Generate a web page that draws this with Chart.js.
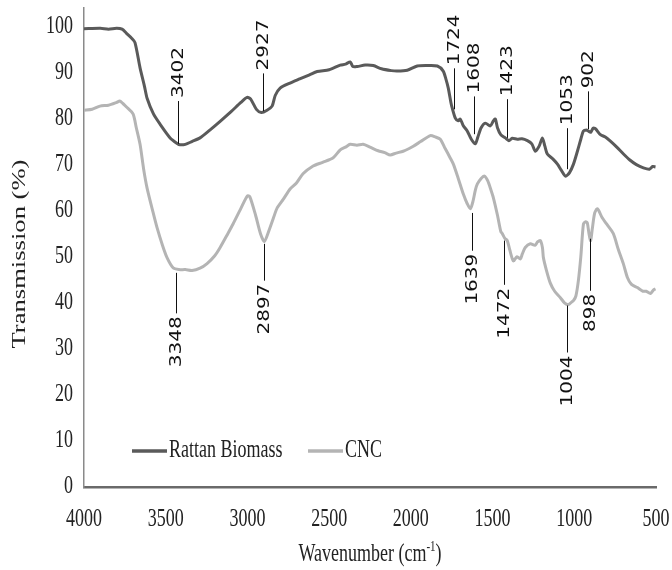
<!DOCTYPE html>
<html>
<head>
<meta charset="utf-8">
<script src="https://cdn.jsdelivr.net/npm/chart.js@4"></script>
<style>
  html, body { margin: 0; padding: 0; background: #fff; }
  #wrap { width: 672px; height: 570px; position: relative; }
</style>
</head>
<body>
<div id="wrap"><canvas id="ftir"></canvas></div>
<script>
// FTIR spectra (wavenumber in cm-1, transmission in %)
const rattanWn = [4000, 3900, 3850, 3800, 3767, 3740, 3710, 3688, 3657, 3630, 3614, 3575, 3535, 3473, 3430, 3412, 3380, 3340, 3290, 3230,
  3167, 3100, 3040, 3002, 2980, 2945, 2915, 2880, 2849, 2830, 2800, 2739, 2680, 2620, 2573, 2500, 2432, 2400, 2371, 2355,
  2328, 2280, 2230, 2180, 2120, 2083, 2022, 1961, 1900, 1838, 1802, 1785, 1771, 1755, 1747, 1728, 1710, 1698, 1680, 1655,
  1630, 1606, 1590, 1570, 1544, 1514, 1495, 1483, 1470, 1450, 1422, 1400, 1380, 1349, 1320, 1287, 1260, 1238, 1215, 1195,
  1180, 1165, 1130, 1103, 1080, 1054, 1030, 1005, 980, 960, 944, 925, 914, 900, 885, 871, 840, 810, 779, 740,
  699, 660, 620, 577, 540, 520, 503];
const rattanT = [99.5, 99.6, 99.4, 99.6, 99.4, 98.5, 97.5, 96.5, 91, 87, 84.4, 81, 78.8, 75.8, 74.6, 74.3, 74.4, 75, 75.8, 77.5,
  79.4, 81.5, 83.5, 84.6, 84.2, 82, 81.3, 81.8, 82.7, 85, 86.6, 87.7, 88.6, 89.5, 90.2, 90.6, 91.6, 91.8, 92.3, 91.3,
  91.3, 91.6, 91.5, 90.8, 90.4, 90.3, 90.5, 91.4, 91.5, 91.4, 90.3, 88.5, 86.6, 83.5, 82.3, 80.1, 79.5, 79.9, 78.5, 77.3,
  75.5, 74.5, 76, 78, 79, 78.4, 79.5, 79.9, 78, 76.5, 75.8, 75.2, 75.7, 75.5, 75.6, 75.2, 74.5, 72.9, 74, 75.8,
  74, 72.3, 71.2, 70.1, 68.8, 67.5, 68.2, 70.1, 73, 75.5, 77.3, 77.5, 77.3, 77, 77.9, 77.8, 76.5, 76, 75.1, 73.8,
  72.3, 71, 70, 69.3, 69, 69.6, 69.5];

const cncWn = [4000, 3950, 3902, 3850, 3800, 3780, 3740, 3700, 3680, 3657, 3635, 3614, 3580, 3553, 3520, 3492, 3455, 3420, 3380, 3339,
  3290, 3247, 3200, 3167, 3120, 3088, 3040, 3000, 2985, 2950, 2920, 2897, 2870, 2840, 2818, 2780, 2739, 2700, 2660, 2598,
  2540, 2475, 2432, 2400, 2371, 2330, 2292, 2250, 2200, 2160, 2126, 2090, 2047, 2010, 1985, 1940, 1881, 1850, 1820, 1790,
  1760, 1740, 1710, 1679, 1655, 1636, 1620, 1605, 1593, 1570, 1550, 1530, 1510, 1495, 1470, 1450, 1440, 1425, 1410, 1395,
  1373, 1350, 1330, 1318, 1300, 1269, 1240, 1225, 1208, 1195, 1189, 1170, 1146, 1120, 1085, 1060, 1036, 1015, 1004, 990,
  975, 960, 944, 930, 920, 910, 900, 890, 875, 858, 830, 800, 761, 730, 700, 675, 650, 614, 580, 560,
  534, 515, 503];
const cncT = [81.8, 82, 82.7, 82.9, 83.5, 83.8, 82.5, 81, 78, 74.4, 69, 64.9, 60, 56.3, 52.5, 49.8, 47.6, 47.2, 47.2, 47.0,
  47.5, 48.5, 50.2, 52.0, 55, 57.1, 60.5, 63.2, 63, 59, 55, 53.3, 55.5, 58.5, 60.6, 62.5, 64.7, 66, 68, 69.7,
  70.5, 71.5, 73.2, 73.8, 74.4, 74.2, 74.4, 73.8, 73, 72.6, 72.1, 72.5, 72.9, 73.5, 74.0, 75, 76.3, 76, 75.5, 73.5,
  71.5, 70.1, 67, 63.6, 61.5, 60.4, 62, 64.5, 65.8, 67, 67.5, 66.5, 64.5, 62.8, 59, 55.5, 55, 54, 53.5, 51.5,
  49.1, 50, 49.5, 50.6, 52, 52.8, 52.5, 53.2, 53.5, 52, 49.8, 47, 44.2, 42.5, 41.1, 40, 39.6, 40.2, 40.5, 41.5,
  44.8, 50, 57.1, 57.6, 57.3, 55, 53.5, 56, 59.5, 60.4, 58.5, 57, 55, 51.5, 48.5, 45.5, 44, 43.3, 42.5, 42.5,
  42, 42.8, 43];

// peak labels: text, marker wavenumber, line start / end (transmission)
const rattanPeakText = ['3402', '2927', '1724', '1608', '1423', '1053', '902'];
const rattanPeakWn   = [3424, 2904, 1734, 1612, 1410, 1044, 918];
const rattanPeakFrom = [74.5, 81.6, 82.0, 76.6, 75.8, 69.0, 77.7];
const rattanPeakTo   = [83.8, 89.8, 90.9, 84.8, 84.2, 77.9, 85.9];

const cncPeakText = ['3348', '2897', '1639', '1472', '1004', '898'];
const cncPeakWn   = [3437, 2898, 1626, 1432, 1044, 902];
const cncPeakFrom = [46.5, 52.8, 59.5, 53.5, 39.4, 53.9];
const cncPeakTo   = [37.7, 44.8, 51.3, 43.9, 29.2, 42.6];

const seriesNames = ['Rattan Biomass', 'CNC'];
const seriesColors = ['#5a5a5a', '#b4b4b4'];

const SERIF = '"Liberation Serif", "Times New Roman", serif';
const STRETCH = 1.35; // the source figure is stretched vertically

function toPoints(xs, ys) {
  return xs.map((x, i) => ({ x: x, y: ys[i] }));
}

// draw text squashed/stretched vertically, optionally rotated
function stretchedText(ctx, text, x, y, opt) {
  ctx.save();
  ctx.translate(x, y);
  ctx.scale(1, opt.sy || STRETCH);
  if (opt.rotate) ctx.rotate(-Math.PI / 2);
  ctx.font = opt.font;
  ctx.fillStyle = opt.color || '#222';
  ctx.textAlign = opt.align || 'center';
  ctx.textBaseline = opt.baseline || 'middle';
  ctx.fillText(text, 0, 0);
  ctx.restore();
}

const decorPlugin = {
  id: 'decor',
  afterDraw(chart) {
    const ctx = chart.ctx;
    const xs = chart.scales.x, ys = chart.scales.y;
    const area = chart.chartArea;

    // y tick labels
    ys.ticks.filter(t => t.value % 10 === 0).forEach(t => {
      stretchedText(ctx, String(t.value), 73, ys.getPixelForValue(t.value), { font: '18px ' + SERIF, align: 'right' });
    });
    // x tick labels
    xs.ticks.filter(t => t.value % 500 === 0).forEach(t => {
      stretchedText(ctx, String(t.value), xs.getPixelForValue(t.value), 520, { font: '18px ' + SERIF });
    });

    // axis titles
    stretchedText(ctx, 'Transmission (%)', 20, 254, { font: '19px ' + SERIF, rotate: true, sy: 1.4 });
    ctx.save();
    ctx.font = '18px ' + SERIF;
    const a = 'Wavenumber (cm', sup = '-1', b = ')';
    const wa = ctx.measureText(a).width, wb = ctx.measureText(b).width;
    ctx.font = '11px ' + SERIF;
    const ws = ctx.measureText(sup).width;
    ctx.restore();
    const cx = (area.left + area.right) / 2;
    const x0 = cx - (wa + ws + wb) / 2;
    stretchedText(ctx, a, x0, 555, { font: '18px ' + SERIF, align: 'left' });
    stretchedText(ctx, sup, x0 + wa, 547, { font: '11px ' + SERIF, align: 'left' });
    stretchedText(ctx, b, x0 + wa + ws, 555, { font: '18px ' + SERIF, align: 'left' });

    // peak markers
    ctx.save();
    ctx.strokeStyle = '#111';
    ctx.lineWidth = 1;
    const labelFont = '16px "DejaVu Sans", sans-serif';
    rattanPeakText.forEach((txt, i) => {
      const px = Math.round(xs.getPixelForValue(rattanPeakWn[i])) + 0.5;
      const y1 = ys.getPixelForValue(rattanPeakFrom[i]);
      const y2 = ys.getPixelForValue(rattanPeakTo[i]);
      ctx.beginPath(); ctx.moveTo(px, y1); ctx.lineTo(px, y2); ctx.stroke();
      stretchedText(ctx, txt, px, y2 - 3, { font: labelFont, rotate: true, align: 'left', sy: 1.25, color: '#111' });
    });
    cncPeakText.forEach((txt, i) => {
      const px = Math.round(xs.getPixelForValue(cncPeakWn[i])) + 0.5;
      const y1 = ys.getPixelForValue(cncPeakFrom[i]);
      const y2 = ys.getPixelForValue(cncPeakTo[i]);
      ctx.beginPath(); ctx.moveTo(px, y1); ctx.lineTo(px, y2); ctx.stroke();
      stretchedText(ctx, txt, px, y2 + 3, { font: labelFont, rotate: true, align: 'right', sy: 1.25, color: '#111' });
    });
    ctx.restore();

    // legend inside the plot
    const legendX = [132, 308];
    const legendY = 451;
    chart.data.datasets.forEach((ds, i) => {
      ctx.save();
      ctx.strokeStyle = ds.borderColor;
      ctx.lineWidth = 3.5;
      ctx.beginPath();
      ctx.moveTo(legendX[i], legendY);
      ctx.lineTo(legendX[i] + 35, legendY);
      ctx.stroke();
      ctx.restore();
      stretchedText(ctx, ds.label, legendX[i] + 37, legendY, { font: '18px ' + SERIF, align: 'left' });
    });
  }
};

new Chart(document.getElementById('ftir'), {
  type: 'line',
  data: {
    datasets: [
      { label: seriesNames[0], data: toPoints(rattanWn, rattanT), borderColor: seriesColors[0], borderWidth: 3, pointRadius: 0, tension: 0.25 },
      { label: seriesNames[1], data: toPoints(cncWn, cncT), borderColor: seriesColors[1], borderWidth: 3, pointRadius: 0, tension: 0.25 }
    ]
  },
  options: {
    responsive: true,
    maintainAspectRatio: false,
    animation: false,
    layout: { padding: { top: 8, right: 16, left: 0, bottom: 0 } },
    plugins: { legend: { display: false }, tooltip: { enabled: false } },
    scales: {
      x: {
        type: 'linear',
        reverse: true,
        min: 500,
        max: 4000,
        ticks: { display: false, stepSize: 500 },
        grid: { display: false },
        border: { display: true, color: '#6a6a6a', width: 2.5 },
        afterFit: s => { s.height = 83; }
      },
      y: {
        min: 0,
        max: 104,
        ticks: { display: false, stepSize: 10 },
        grid: { display: false },
        border: { display: true, color: '#8a8a8a', width: 1.5 },
        afterFit: s => { s.width = 84; }
      }
    }
  },
  plugins: [decorPlugin]
});
</script>
</body>
</html>
